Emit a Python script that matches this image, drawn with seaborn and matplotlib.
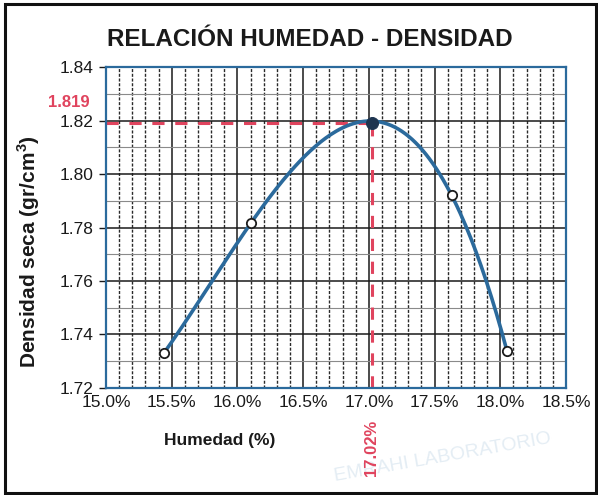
import numpy as np
import pandas as pd
import matplotlib
matplotlib.use("Agg")
import matplotlib.pyplot as plt
from matplotlib.ticker import MultipleLocator, FuncFormatter
from matplotlib.patches import Rectangle
import seaborn as sns

# Proctor test points: moisture content (%) and dry density (gr/cm3)
humedad = [15.44, 16.10, 17.63, 18.05]
densidad = [1.733, 1.7815, 1.792, 1.734]
# Optimum moisture content and maximum dry density
hum_optima = 17.02
dens_maxima = 1.819

x_ticks = [15.0, 15.5, 16.0, 16.5, 17.0, 17.5, 18.0, 18.5]
y_ticks = [1.72, 1.74, 1.76, 1.78, 1.80, 1.82, 1.84]

sns.set_theme(style="white")
plt.rcParams["font.family"] = ["Liberation Sans", "DejaVu Sans"]
plt.rcParams["mathtext.fontset"] = "custom"
plt.rcParams["mathtext.bf"] = "Liberation Sans:bold"
plt.rcParams["mathtext.rm"] = "Liberation Sans"

fig = plt.figure(figsize=(5.98, 4.95), dpi=100)
ax = fig.add_axes([0.1773, 0.2162, 0.9465 - 0.1773, 0.8646 - 0.2162])

red = "#e0445e"
blue = "#2b6a9c"

# grid
ax.set_xlim(x_ticks[0], x_ticks[-1])
ax.set_ylim(y_ticks[0], y_ticks[-1])
ax.xaxis.set_major_locator(MultipleLocator(0.5))
ax.xaxis.set_minor_locator(MultipleLocator(0.1))
ax.yaxis.set_major_locator(MultipleLocator(0.02))
ax.yaxis.set_minor_locator(MultipleLocator(0.01))
ax.grid(True, which="major", axis="both", color="#1a1a1a", lw=1.1, zorder=0)
ax.grid(True, which="minor", axis="x", color="#2a2a2a", lw=1.0, ls=(0, (2.2, 1.2)), zorder=0)
ax.grid(True, which="minor", axis="y", color="#8a8a8a", lw=0.8, zorder=0)
ax.set_axisbelow(True)

# fitted compaction curve
coef = np.polyfit(humedad, densidad, 3)
xs = np.linspace(humedad[0], humedad[-1], 200)
curve = pd.DataFrame({"x": xs, "y": np.polyval(coef, xs)})
sns.lineplot(data=curve, x="x", y="y", ax=ax, color=blue, lw=2.6, zorder=3)

# optimum reference lines
ax.plot([x_ticks[0], hum_optima], [dens_maxima, dens_maxima], color=red, lw=2.2,
        ls=(0, (4, 3.5)), zorder=2)
ax.plot([hum_optima, hum_optima], [y_ticks[0], dens_maxima], color=red, lw=2.2,
        ls=(0, (4, 3.5)), zorder=2)

pts = pd.DataFrame({"x": humedad, "y": densidad})
sns.scatterplot(data=pts, x="x", y="y", ax=ax, s=45, facecolor="white",
                edgecolor="#1c1c1c", linewidth=1.3, zorder=4)
sns.scatterplot(x=[hum_optima], y=[dens_maxima], ax=ax, s=75, color="#1e3550",
                edgecolor="#1e3550", zorder=5)

for s in ax.spines.values():
    s.set_color(blue)
    s.set_linewidth(1.6)
    s.set_visible(True)

ax.set_xticks(x_ticks)
ax.set_yticks(y_ticks)
ax.xaxis.set_major_formatter(FuncFormatter(lambda v, p: f"{v:.1f}%"))
ax.yaxis.set_major_formatter(FuncFormatter(lambda v, p: f"{v:.2f}"))
ax.tick_params(axis="both", which="major", labelsize=12.5, colors="#1a1a1a")
ax.tick_params(axis="y", which="major", length=5, width=1, left=True, pad=4)
ax.tick_params(axis="x", which="major", length=0, pad=5)
ax.tick_params(which="minor", length=0)
ax.set_xlabel("")
ax.set_ylabel("")

fig.text(0.518, 0.921, "RELACIÓN HUMEDAD - DENSIDAD", ha="center", va="center",
         fontsize=17.5, fontweight="bold", color="#1a1a1a")
fig.text(0.048, 0.492, "Densidad seca (gr/cm$^{\\mathbf{3}}$)", rotation=90, ha="center",
         va="center", fontsize=15, fontweight="bold", color="#1a1a1a")
fig.text(0.368, 0.111, "Humedad (%)", ha="center", va="center", fontsize=12.5,
         fontweight="bold", color="#1a1a1a")

# optimum value labels
ax.annotate(f"{dens_maxima:.3f}", xy=(x_ticks[0], dens_maxima), xytext=(-12, 15),
            textcoords="offset points", ha="right", va="center",
            fontsize=12, fontweight="bold", color=red, annotation_clip=False)
ax.annotate(f"{hum_optima:.2f}%", xy=(hum_optima, y_ticks[0]), xytext=(0, -23),
            textcoords="offset points", rotation=90, ha="center", va="top",
            fontsize=12, fontweight="bold", color=red, annotation_clip=False)

# laboratory watermark
for (wx, wy, rot) in [(0.66, 0.48, 12), (0.36, 0.60, 12), (0.74, 0.075, 10)]:
    fig.text(wx, wy, "EMRAHI LABORATORIO", rotation=rot, fontsize=14, color="#e4edf4",
             ha="center", va="center", zorder=-1)

# outer frame
fig.patches.append(Rectangle((0.008, 0.004), 0.988, 0.988, transform=fig.transFigure,
                             fill=False, edgecolor="#111111", lw=2.2))

fig.savefig("out.png", dpi=100, facecolor="white")
